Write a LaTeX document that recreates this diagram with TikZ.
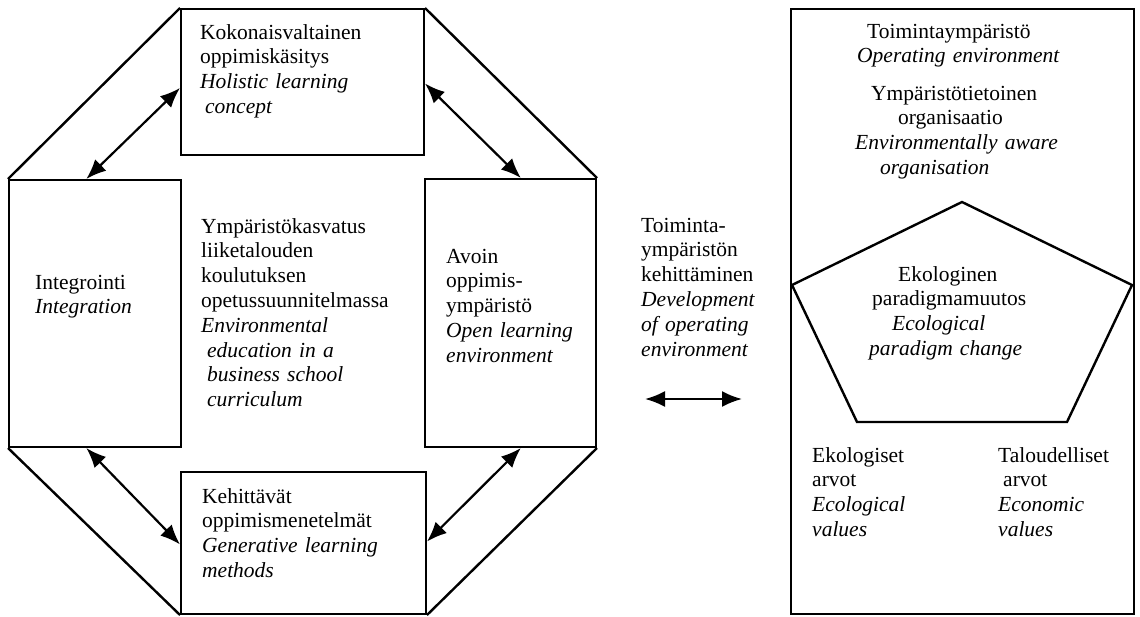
\documentclass[tikz,border=0pt]{standalone}
\usepackage{fontspec}
\setmainfont{Liberation Serif}
\usetikzlibrary{calc,arrows.meta}

\begin{document}
\begin{tikzpicture}[x=1pt,y=-1pt,
  box/.style={draw,line width=2pt,anchor=north west,inner sep=0pt},
  txt/.style={inner sep=0pt,anchor=base west,align=left,text width=#1,font=\fontsize{21.5}{24.8}\selectfont},
  txt/.default=220pt,
  edge/.style={line width=2.4pt},
  biarrow/.style={line width=2.2pt,<->,>={Latex[length=20pt,width=16pt]}}]
\useasboundingbox (0,0) rectangle (1140,616);
% boxes
\node(holistic)[box,minimum width=243pt,minimum height=146pt] at (180,8){};
\node(integr)[box,minimum width=172pt,minimum height=267pt] at (8,179){};
\node(open)[box,minimum width=171pt,minimum height=268pt] at (424,178){};
\node(generative)[box,minimum width=245pt,minimum height=142pt] at (180,471){};
\node(operating)[box,minimum width=343pt,minimum height=605pt] at (790,8){};
% texts
\node(holistictxt)[txt] at (200,39){Kokonaisvaltainen\\oppimiskäsitys\\\textit{Holistic learning}\\\hspace*{5pt}\textit{concept}};
\node(integrtxt)[txt=140pt] at (35,289){Integrointi\\\textit{Integration}};
\node(envedu)[txt] at (201,233){Ympäristökasvatus\\liiketalouden\\koulutuksen\\opetussuunnitelmassa\\\textit{Environmental}\\\hspace*{6pt}\textit{education in a}\\\hspace*{6pt}\textit{business school}\\\hspace*{6pt}\textit{curriculum}};
\node(opentxt)[txt=145pt] at (446,263){Avoin\\oppimis-\\ympäristö\\\textit{Open learning}\\\textit{environment}};
\node(generativetxt)[txt] at (202,503){Kehittävät\\oppimismenetelmät\\\textit{Generative learning}\\\textit{methods}};
\node(devtxt)[txt=140pt] at (641,232){Toiminta-\\ympäristön\\kehittäminen\\\textit{Development}\\\textit{of operating}\\\textit{environment}};
\node(operatingtxt)[txt=270pt] at (855,38){\hspace*{12pt}Toimintaympäristö\\\hspace*{2pt}\textit{Operating environment}};
\node(awaretxt)[txt=270pt] at (855,100){\hspace*{16pt}Ympäristötietoinen\\\hspace*{43pt}organisaatio\\\textit{Environmentally aware}\\\hspace*{25pt}\textit{organisation}};
\node(paradigmtxt)[txt=200pt] at (869,281){\hspace*{29pt}Ekologinen\\\hspace*{3pt}paradigmamuutos\\\hspace*{23pt}\textit{Ecological}\\\textit{paradigm change}};
\node(ecotxt)[txt=150pt] at (812,462){Ekologiset\\arvot\\\textit{Ecological}\\\textit{values}};
\node(econtxt)[txt=130pt] at (998,462){Taloudelliset\\\hspace*{5pt}arvot\\\textit{Economic}\\\textit{values}};
% octagon sides
\path[draw,edge] (holistic.north west) -- (integr.north west);
\path[draw,edge] (holistic.north east) -- (open.north east);
\path[draw,edge] (integr.south west) -- (generative.south west);
\path[draw,edge] (open.south east) -- (generative.south east);
% arrows between boxes
\path[draw,biarrow] ($(holistic.north west)!0.54!(holistic.south west)$) -- ($(integr.north west)!0.45!(integr.north east)$);
\path[draw,biarrow] ($(holistic.north east)!0.51!(holistic.south east)$) -- ($(open.north west)!0.56!(open.north east)$);
\path[draw,biarrow] ($(integr.south west)!0.45!(integr.south east)$) -- ($(generative.north west)!0.51!(generative.south west)$);
\path[draw,biarrow] ($(open.south west)!0.56!(open.south east)$) -- ($(generative.north east)!0.49!(generative.south east)$);
\coordinate(devl) at (645,399);
\coordinate(devr) at (742,399);
\path[draw,biarrow] (devl) -- (devr);
% pentagon
\draw[edge] (962,202) -- (1132,285) -- (1067,422) -- (857,422) -- (792,285) -- cycle;
\end{tikzpicture}
\end{document}
